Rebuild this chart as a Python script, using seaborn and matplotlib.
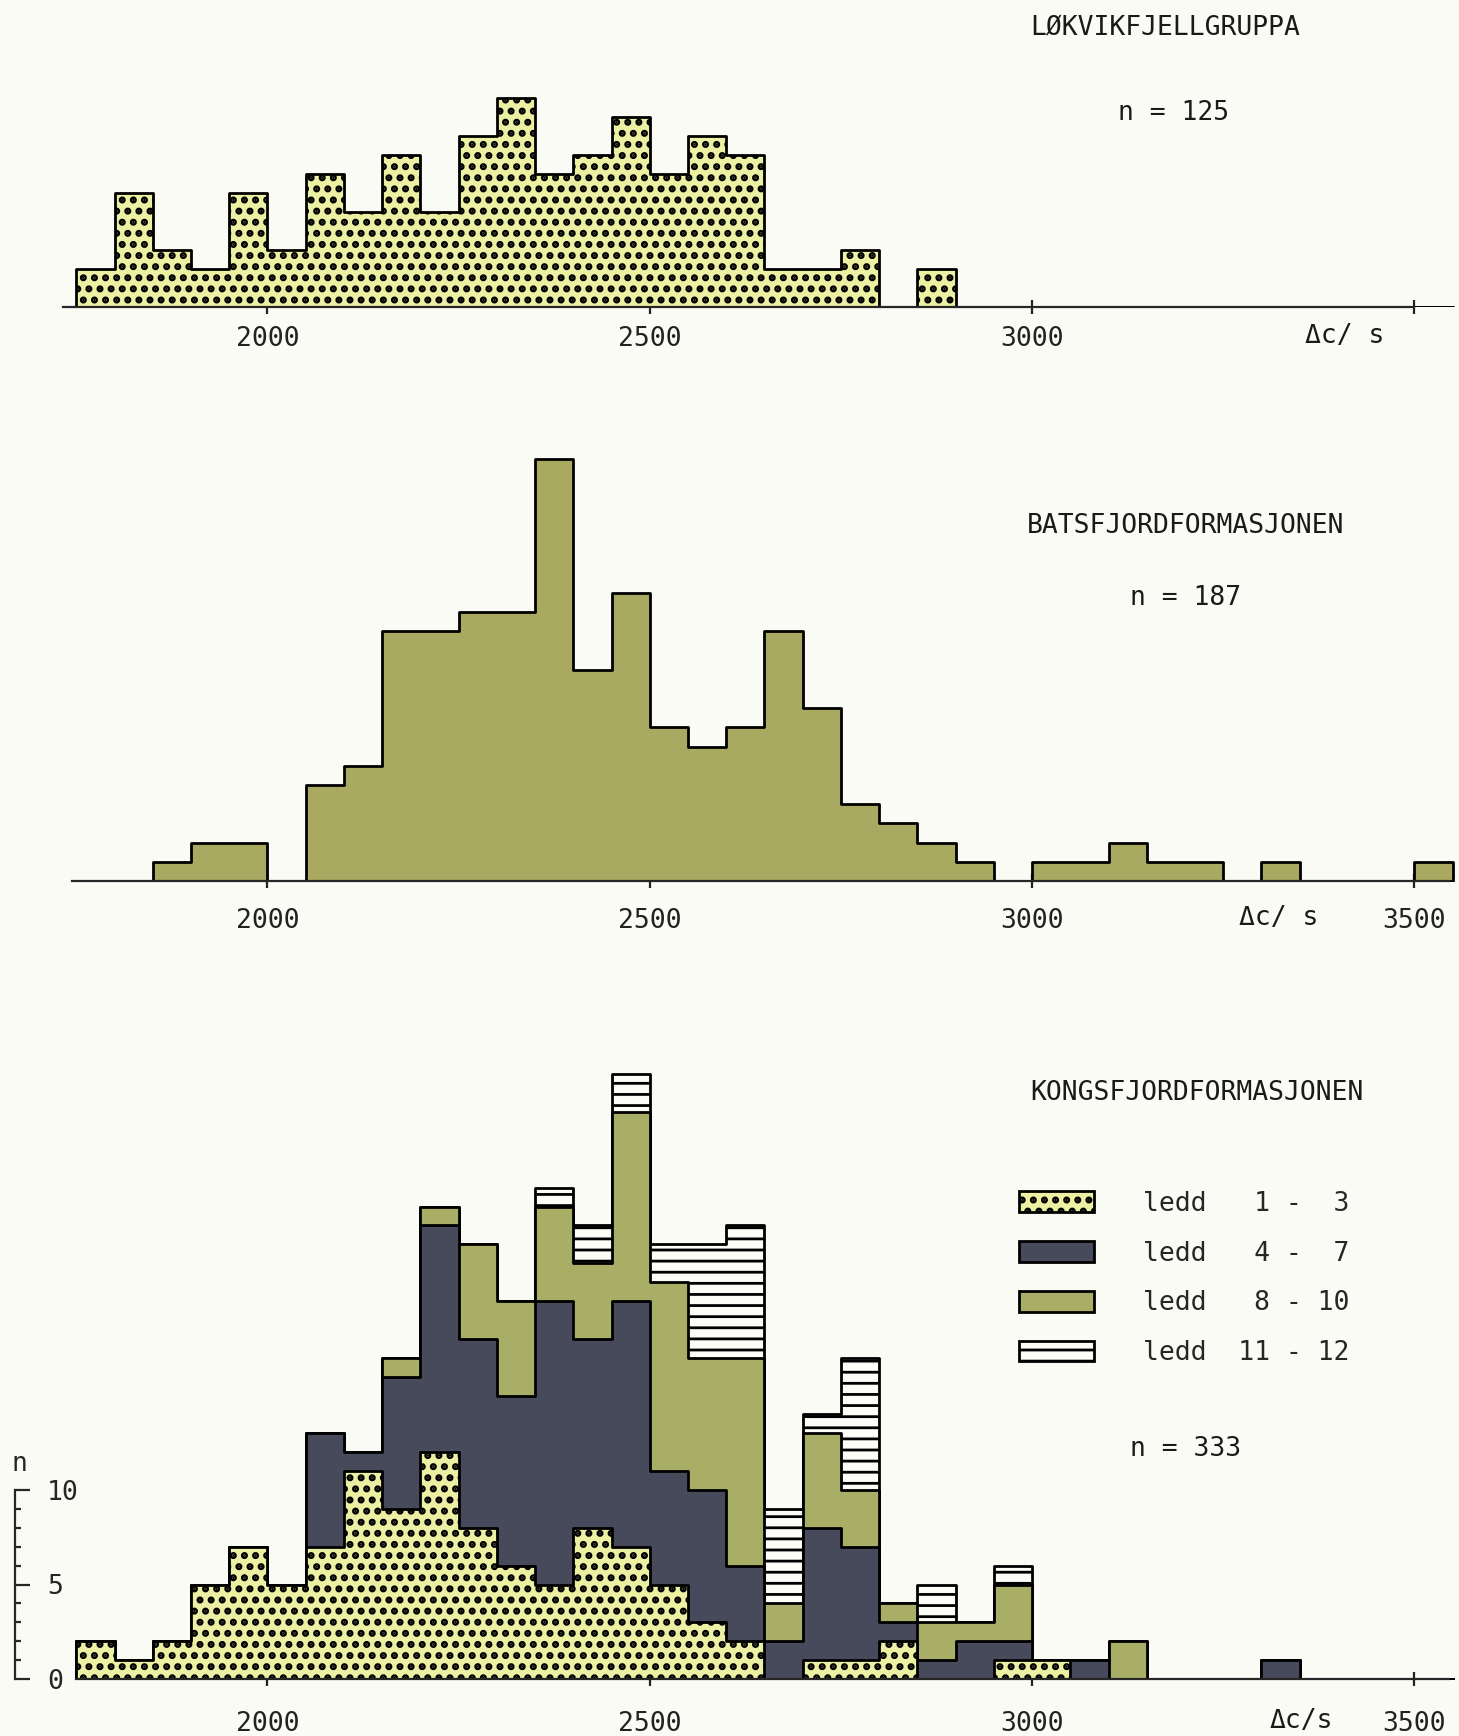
import numpy as np
import pandas as pd
import matplotlib
matplotlib.use("Agg")
import matplotlib.pyplot as plt
from matplotlib.patches import Patch
import seaborn as sns

# ---------------- data (counts per 50 c/s bin, first bin starts at 1750) -------------
bin_start = 1750
bin_width = 50
n_bins = 36

lokvik_counts = [2, 6, 3, 2, 6, 3, 7, 5, 8, 5, 9, 11, 7, 8, 10, 7, 9, 8, 2, 2, 3, 0, 2,
                 0, 0, 0, 0, 0, 0, 0, 0, 0, 0, 0, 0, 0]
batsfjord_counts = [0, 0, 1, 2, 2, 0, 5, 6, 13, 13, 14, 14, 22, 11, 15, 8, 7, 8, 13, 9, 4, 3,
                    2, 1, 0, 1, 1, 2, 1, 1, 0, 1, 0, 0, 0, 1]
# Kongsfjordformasjonen, stacked layers
ledd_1_3 = [2, 1, 2, 5, 7, 5, 7, 11, 9, 12, 8, 6, 5, 8, 7, 5, 3, 2, 0, 1, 1, 2, 0, 0, 1, 1,
            0, 0, 0, 0, 0, 0, 0, 0, 0, 0]
ledd_4_7 = [0, 0, 0, 0, 0, 0, 6, 1, 7, 12, 10, 9, 15, 10, 13, 6, 7, 4, 2, 7, 6, 1, 1, 2, 1, 0,
            1, 0, 0, 0, 0, 1, 0, 0, 0, 0]
ledd_8_10 = [0, 0, 0, 0, 0, 0, 0, 0, 1, 1, 5, 5, 5, 4, 10, 10, 7, 11, 2, 5, 3, 1, 2, 1, 3, 0,
             0, 2, 0, 0, 0, 0, 0, 0, 0, 0]
ledd_11_12 = [0, 0, 0, 0, 0, 0, 0, 0, 0, 0, 0, 0, 1, 2, 2, 2, 6, 7, 5, 1, 7, 0, 2, 0, 1, 0,
              0, 0, 0, 0, 0, 0, 0, 0, 0, 0]

layer_labels = ["ledd   1 -  3", "ledd   4 -  7", "ledd   8 - 10", "ledd  11 - 12"]
x_ticks = [2000, 2500, 3000, 3500]

titles = ["LØKVIKFJELLGRUPPA", "BATSFJORDFORMASJONEN", "KONGSFJORDFORMASJONEN"]
n_labels = ["n = 125", "n = 187", "n = 333"]

# ---------------- style ----------------
BG = "#fbfbf6"
YELLOW = "#ecf0a2"
OLIVE_MID = "#a9a962"
OLIVE_BOT = "#a8ae66"
DARK = "#474a5a"
WHITE = "#fdfdf8"
DOTS = "..."
LINES = "---"
HATCH_LW = {DOTS: 1.7, LINES: 1.0, None: 1.0}

sns.set_style("ticks")
plt.rcParams["font.family"] = ["DejaVu Sans Mono", "DejaVu Sans"]
plt.rcParams["hatch.linewidth"] = 1.0
plt.rcParams["hatch.color"] = "black"

W, H = 1459, 1736
DPI = 200
fig = plt.figure(figsize=(W / DPI, H / DPI), dpi=DPI, facecolor=BG)

PX_PER_UNIT_X = 0.7646
X0_PX = 76.3
X_LEFT = bin_start - X0_PX / PX_PER_UNIT_X
X_RIGHT = X_LEFT + W / PX_PER_UNIT_X

centers = bin_start + bin_width * np.arange(n_bins) + bin_width / 2
bin_range = (bin_start, bin_start + bin_width * n_bins)


def make_ax(baseline_px, top_px, unit_px):
    ax = fig.add_axes([0, (H - baseline_px) / H, 1, (baseline_px - top_px) / H])
    ax.set_facecolor("none")
    return ax, (baseline_px - top_px) / unit_px


def step_hist(ax, counts, color, hatch=None):
    df = pd.DataFrame({"dc": centers, "n": np.asarray(counts, dtype=float)})
    kws = dict(edgecolor="black", linewidth=1.0)
    if hatch:
        kws["hatch"] = hatch
    plt.rcParams["hatch.linewidth"] = HATCH_LW[hatch]
    n_before = len(ax.collections)
    sns.histplot(data=df, x="dc", weights="n", binwidth=bin_width, binrange=bin_range,
                 element="step", fill=True, stat="count", ax=ax, legend=False,
                 color=color, alpha=1, **kws)
    for coll in ax.collections[n_before:]:
        if hasattr(coll, "set_hatch_linewidth"):
            coll.set_hatch_linewidth(HATCH_LW[hatch])
    plt.rcParams["hatch.linewidth"] = 1.0


ax_top, ytop_top = make_ax(307, 0, 19.0)
ax_mid, ytop_mid = make_ax(881, 400, 19.2)
ax_bot, ytop_bot = make_ax(1679, 1040, 18.9)

step_hist(ax_top, lokvik_counts, YELLOW, DOTS)
step_hist(ax_mid, batsfjord_counts, OLIVE_MID)

layers = [ledd_1_3, ledd_4_7, ledd_8_10, ledd_11_12]
layer_colors = [YELLOW, DARK, OLIVE_BOT, WHITE]
layer_hatches = [DOTS, None, None, LINES]
cum = np.cumsum(np.array(layers), axis=0)
for i in range(len(layers) - 1, -1, -1):
    step_hist(ax_bot, cum[i], layer_colors[i], layer_hatches[i])

# ---------------- axes ----------------
spine_bounds = [(1733, 3500), (1745, 3545), (1750, 3545)]
label_pads = [4.5, 7.1, 8.9]
for ax, ytop, bnds, pad in zip([ax_top, ax_mid, ax_bot], [ytop_top, ytop_mid, ytop_bot],
                               spine_bounds, label_pads):
    ax.set_xlim(X_LEFT, X_RIGHT)
    ax.set_ylim(0, ytop)
    ax.set_xlabel("")
    ax.set_ylabel("")
    for s in ["top", "right", "left"]:
        ax.spines[s].set_visible(False)
    ax.spines["bottom"].set_linewidth(0.8)
    ax.spines["bottom"].set_bounds(*bnds)
    ax.set_xticks(x_ticks)
    ax.tick_params(axis="x", direction="inout", length=5, width=0.8, labelsize=9.5,
                   pad=pad, colors="#222222")
    ax.set_yticks([])

ax_top.set_xticklabels(["2000", "2500", "3000", ""])
ax_mid.set_xticklabels(["2000", "2500", "3000", "3500"])
ax_bot.set_xticklabels(["2000", "2500", "3000", "3500"])

# y axis of the lower panel (count scale)
ax_bot.spines["left"].set_visible(True)
ax_bot.spines["left"].set_position(("data", 1670))
ax_bot.spines["left"].set_bounds(0, 10)
ax_bot.spines["left"].set_linewidth(0.8)
ax_bot.set_yticks([0, 5, 10])
ax_bot.set_yticks(range(11), minor=True)
ax_bot.tick_params(axis="y", which="major", direction="in", length=5.4, width=0.8,
                   labelsize=9.5, pad=-11.5, left=True, labelleft=True)
ax_bot.tick_params(axis="y", which="minor", direction="in", length=2.2, width=0.8,
                   left=True)
plt.setp(ax_bot.get_yticklabels(), ha="left")
ax_bot.text(1675, 11.35, "n", ha="center", va="center", fontsize=9.5)


# ---------------- texts ----------------
def ftext(x, y, s, **kw):
    kw.setdefault("fontsize", 9.5)
    kw.setdefault("va", "center")
    kw.setdefault("color", "#1a1a1a")
    fig.text(x / W, 1 - y / H, s, **kw)


ftext(1030, 28, titles[0], ha="left")
ftext(1118, 113, n_labels[0], ha="left")
ftext(1027, 526, titles[1], ha="left")
ftext(1130, 598, n_labels[1], ha="left")
ftext(1030, 1093, titles[2], ha="left")
ftext(1130, 1449, n_labels[2], ha="left")
ftext(1345, 336, "Δc/ s", ha="center")
ftext(1279, 918, "Δc/ s", ha="center")
ftext(1301, 1721, "Δc/s", ha="center")

# ---------------- legend ----------------
plt.rcParams["hatch.linewidth"] = 1.0
handles = []
for c, h in zip(layer_colors, layer_hatches):
    p = Patch(facecolor=c, edgecolor="black", hatch=h, linewidth=1.0)
    handles.append(p)
leg = ax_bot.legend(handles, layer_labels, loc="upper left",
                    bbox_to_anchor=(1019 / W, 1 - 1191 / H), bbox_transform=fig.transFigure,
                    frameon=False, borderpad=0, borderaxespad=0, handlelength=2.84,
                    handleheight=0.83, handletextpad=1.85, labelspacing=0.9,
                    prop={"family": "DejaVu Sans Mono", "size": 9.5})
for patch, h in zip(leg.get_patches(), layer_hatches):
    if hasattr(patch, "set_hatch_linewidth"):
        patch.set_hatch_linewidth(HATCH_LW[h])

fig.savefig("out.png", dpi=DPI, facecolor=BG)
